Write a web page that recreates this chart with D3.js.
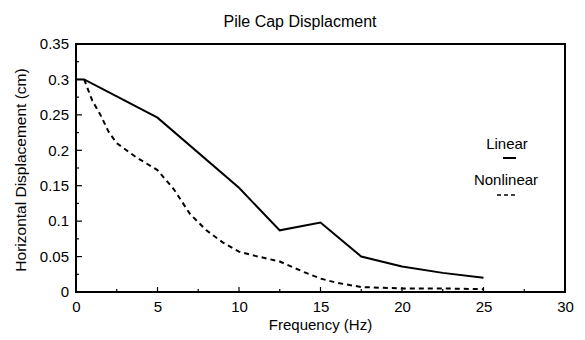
<!DOCTYPE html>
<html>
<head>
<meta charset="utf-8">
<script src="https://cdn.jsdelivr.net/npm/d3@7"></script>
<style>
  body { margin: 0; background: #fff; }
  text { font-family: "Liberation Sans", Arial, sans-serif; fill: #000; }
</style>
</head>
<body>
<div id="chart"></div>
<script>
// frequency (Hz) vs horizontal displacement (cm)
const linearFreq = [0, 0.5, 2.5, 5, 10, 12.5, 15, 17.5, 20, 22.5, 25];
const linearDisp = [0.3, 0.3, 0.276, 0.246, 0.147, 0.087, 0.098, 0.05, 0.036, 0.027, 0.02];

const nonlinearFreq = [0.5, 1, 1.5, 2, 2.5, 3.7, 5, 6, 7, 8, 9, 10, 11, 12.5, 14, 15, 16, 17.5, 20, 22.5, 25];
const nonlinearDisp = [0.3, 0.27, 0.25, 0.226, 0.21, 0.19, 0.172, 0.145, 0.11, 0.087, 0.07, 0.057, 0.051, 0.043, 0.028, 0.019, 0.013, 0.007, 0.005, 0.005, 0.004];

const xTicks = [0, 5, 10, 15, 20, 25, 30];
const yTicks = [0, 0.05, 0.1, 0.15, 0.2, 0.25, 0.3, 0.35];

const width = 585, height = 340;
const margin = {top: 44, right: 20, bottom: 48, left: 76};

const svg = d3.select("#chart").append("svg")
    .attr("width", width)
    .attr("height", height);

const x = d3.scaleLinear().domain([0, 30]).range([margin.left, width - margin.right]);
const y = d3.scaleLinear().domain([0, 0.35]).range([height - margin.bottom, margin.top]);

// minor ticks (inward)
const xMinor = d3.range(0, 30.01, 2.5);
const yMinor = d3.range(0, 0.3501, 0.025);

svg.append("g")
    .selectAll("line")
    .data(xMinor)
    .join("line")
    .attr("x1", d => x(d)).attr("x2", d => x(d))
    .attr("y1", y(0)).attr("y2", d => y(0) - (xTicks.includes(d) ? 5 : 3))
    .attr("stroke", "#000").attr("stroke-width", 1.2);

svg.append("g")
    .selectAll("line")
    .data(yMinor)
    .join("line")
    .attr("y1", d => y(d)).attr("y2", d => y(d))
    .attr("x1", x(0)).attr("x2", (d, i) => x(0) + (i % 2 === 0 ? 6 : 3))
    .attr("stroke", "#000").attr("stroke-width", 1.2);

// axes with labels only
const xAxis = svg.append("g")
    .attr("transform", `translate(0,${y(0)})`)
    .call(d3.axisBottom(x).tickValues(xTicks).tickSize(0).tickPadding(9).tickFormat(d3.format("d")));
xAxis.select(".domain").remove();
xAxis.selectAll("text").style("font-size", "15px");

const yAxis = svg.append("g")
    .attr("transform", `translate(${x(0)},0)`)
    .call(d3.axisLeft(y).tickValues(yTicks).tickSize(0).tickPadding(7).tickFormat(d => d === 0 ? "0" : String(+d.toFixed(2))));
yAxis.select(".domain").remove();
yAxis.selectAll("text").style("font-size", "15px");

// frame
svg.append("rect")
    .attr("x", x(0)).attr("y", y(0.35))
    .attr("width", x(30) - x(0)).attr("height", y(0) - y(0.35))
    .attr("fill", "none").attr("stroke", "#000").attr("stroke-width", 2);

const line = d3.line()
    .x(d => x(d[0]))
    .y(d => y(d[1]));

svg.append("path")
    .datum(d3.zip(linearFreq, linearDisp))
    .attr("d", line)
    .attr("fill", "none").attr("stroke", "#000").attr("stroke-width", 2);

svg.append("path")
    .datum(d3.zip(nonlinearFreq, nonlinearDisp))
    .attr("d", line)
    .attr("fill", "none").attr("stroke", "#000").attr("stroke-width", 2)
    .attr("stroke-dasharray", "5,4");

// title and axis labels
svg.append("text")
    .attr("x", 300).attr("y", 27)
    .attr("text-anchor", "middle")
    .style("font-size", "16px")
    .text("Pile Cap Displacment");

svg.append("text")
    .attr("x", x(15)).attr("y", 330)
    .attr("text-anchor", "middle")
    .style("font-size", "15px")
    .text("Frequency (Hz)");

svg.append("text")
    .attr("transform", `translate(26,${(y(0) + y(0.35)) / 2 + 2}) rotate(-90)`)
    .attr("text-anchor", "middle")
    .style("font-size", "15.5px")
    .text("Horizontal Displacement (cm)");

// legend
svg.append("text")
    .attr("x", 507).attr("y", 149)
    .attr("text-anchor", "middle")
    .style("font-size", "15px")
    .text("Linear");
svg.append("line")
    .attr("x1", 503).attr("x2", 516).attr("y1", 158).attr("y2", 158)
    .attr("stroke", "#000").attr("stroke-width", 2);

svg.append("text")
    .attr("x", 506).attr("y", 185)
    .attr("text-anchor", "middle")
    .style("font-size", "15px")
    .text("Nonlinear");
svg.append("line")
    .attr("x1", 497).attr("x2", 517).attr("y1", 195).attr("y2", 195)
    .attr("stroke", "#000").attr("stroke-width", 1.5)
    .attr("stroke-dasharray", "4,3");
</script>
</body>
</html>
